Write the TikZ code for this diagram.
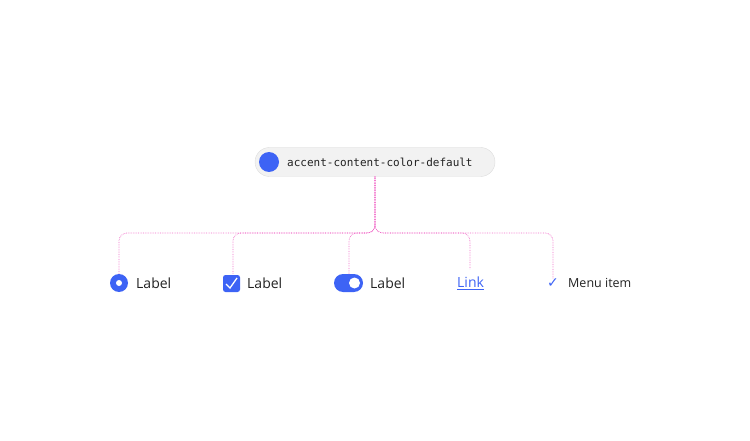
\documentclass[tikz,border=0pt]{standalone}
\usepackage{fontspec}
\setmainfont{Open Sans}
\setmonofont{DejaVu Sans Mono}
\usetikzlibrary{positioning}
\definecolor{accent}{HTML}{3D63F5}
\definecolor{guide}{HTML}{F06BC8}
\definecolor{pillbg}{HTML}{F2F2F2}
\definecolor{pillline}{HTML}{DCDCDC}
\definecolor{ink}{HTML}{222222}

\begin{document}
\begin{tikzpicture}[x=1pt,y=-1pt]
\tikzstyle{pill} = [rectangle, rounded corners=14.5pt, draw=pillline, fill=pillbg,
minimum width=240pt, minimum height=29pt]
\tikzstyle{label} = [anchor=west, inner sep=0pt, font=\fontsize{14}{16}\selectfont, text=ink]
\tikzstyle{line} = [draw=guide, densely dotted, rounded corners=8pt, line width=0.7pt]
\useasboundingbox (0,0) rectangle (750,441);
% token
\node [pill] (pill) at (375,162) {};
\node [circle, fill=accent, minimum size=20pt, inner sep=0pt] (dot) at (269,162) {};
\node [anchor=west, inner sep=0pt, font=\ttfamily\fontsize{11}{13}\selectfont, text=ink] (token) at (287,162) {accent-content-color-default};
% components
\node [circle, fill=accent, minimum size=18pt, inner sep=0pt] (radio) at (119,283) {};
\fill [white] (radio) circle (3pt);
\node [label] (radiotext) at (136,283) {Label};
\node [rectangle, rounded corners=2.5pt, fill=accent, minimum size=17pt, inner sep=0pt] (check) at (231.5,283.5) {};
\draw [white, line width=1.3pt] (226,284) -- (230,288) -- (237,278);
\node [label] (checktext) at (247,283) {Label};
\node [rectangle, rounded corners=9pt, fill=accent, minimum width=29pt, minimum height=18pt, inner sep=0pt] (toggle) at (348.5,283) {};
\fill [white] (354.5,283) circle (5.5pt);
\node [label] (toggletext) at (370,283) {Label};
\node [label, text=accent] (link) at (457,283) {\underline{Link}};
\node [inner sep=0pt, text=accent, font=\fontsize{14}{16}\selectfont] (tick) at (553,283) {\fontspec{DejaVu Sans}✓};
\node [label, font=\fontsize{12.5}{15}\selectfont] (menu) at (568,283) {Menu item};
% guides
\path [line] (pill.south) |- (119,233) -- (radio.north);
\path [line] (pill.south) |- (233,233) -- (233,274);
\path [line] (pill.south) |- (349,233) -- (349,274);
\path [line] (pill.south) |- (470,233) -- (470,269);
\path [line] (pill.south) |- (553,233) -- (tick.north);
\end{tikzpicture}
\end{document}
